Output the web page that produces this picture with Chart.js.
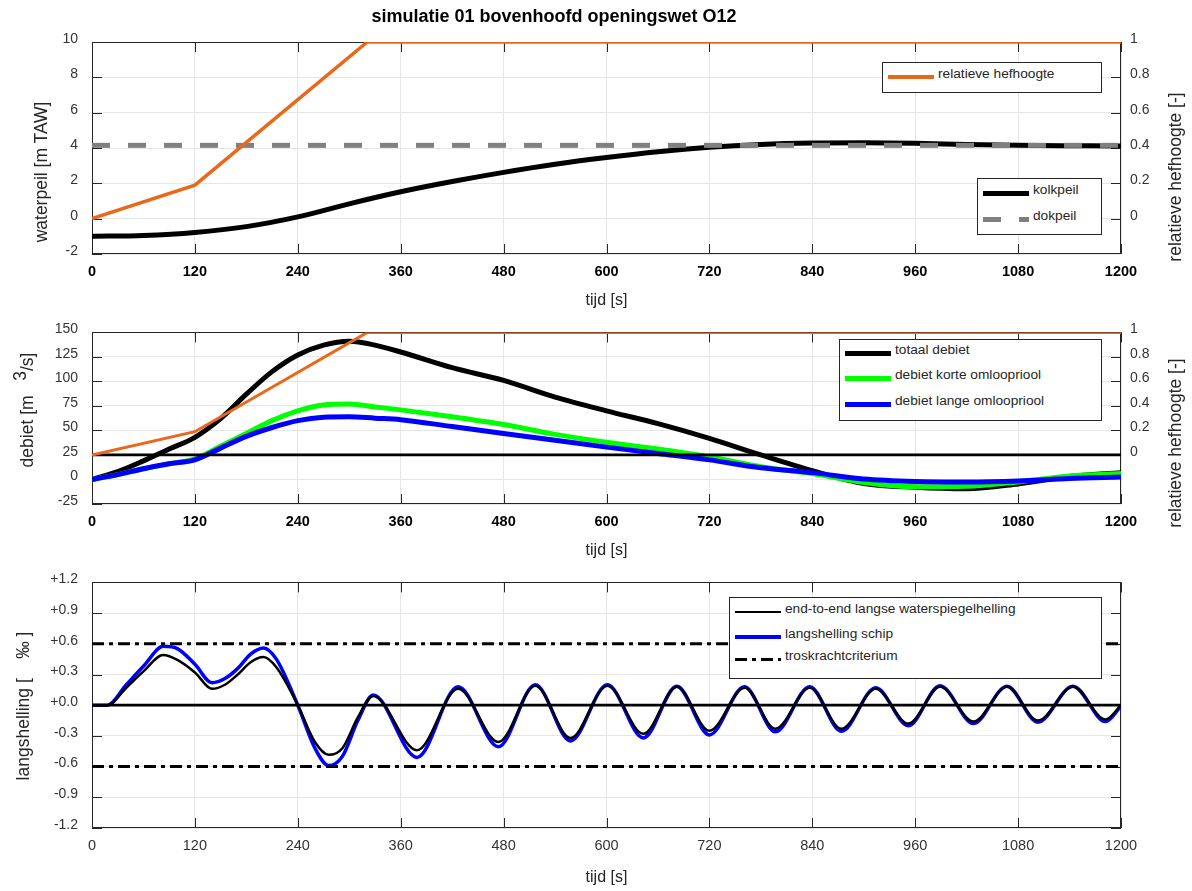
<!DOCTYPE html>
<html lang="nl">
<head>
<meta charset="utf-8">
<title>simulatie 01 bovenhoofd openingswet O12</title>
<script src="https://cdn.jsdelivr.net/npm/chart.js@4.4.1/dist/chart.umd.min.js"></script>
<style>
  body { margin: 0; background: #fff; font-family: 'Liberation Sans', Arial, sans-serif; }
  #blad { position: relative; width: 1192px; height: 891px; overflow: hidden; }
  #blad canvas { position: absolute; left: 0; }
  #titel { position: absolute; left: 354px; top: 6px; width: 400px; text-align: center;
           font-weight: bold; font-size: 18px; color: #000; }
  .astitel { position: absolute; transform: translate(-50%, -50%) rotate(-90deg);
             font-size: 17.5px; color: #262626; white-space: pre; line-height: 20px; }
  .legenda { position: absolute; box-sizing: border-box; border: 1px solid #262626; background: #fff; }
  .legenda .lijn { position: absolute; left: 5px; width: 46px; }
  .legenda .tekst { position: absolute; left: 55px; font-size: 13.7px; line-height: 16px;
                    color: #262626; white-space: nowrap; }
</style>
</head>
<body>
<div id="blad">
  <canvas id="grafiek1" width="1192" height="310" style="top:0"></canvas>
  <canvas id="grafiek2" width="1192" height="250" style="top:310px"></canvas>
  <canvas id="grafiek3" width="1192" height="331" style="top:560px"></canvas>
  <div id="titel">simulatie 01 bovenhoofd openingswet O12</div>
  <div class="astitel" style="left:41px;top:172px">waterpeil [m TAW]</div>
  <div class="astitel" style="left:1175px;top:177px">relatieve hefhoogte [-]</div>
  <div class="astitel" style="left:27px;top:410px">debiet [m   <span style="position:relative;top:-7px">3</span>/s]</div>
  <div class="astitel" style="left:1175px;top:443px">relatieve hefhoogte [-]</div>
  <div class="astitel" style="left:23px;top:706px">langshelling [    ‰ ]</div>
</div>
<script>
// --- data ---
const tijdBereik = [0, 1200];

// grafiek 1: waterpeil [m TAW]
const tijdKolk = [0, 60, 120, 180, 240, 300, 360, 420, 480, 540, 600, 660, 720, 780, 840, 900, 960, 1020, 1080, 1140, 1200];
const kolkpeil = [-1.0, -0.95, -0.78, -0.45, 0.1, 0.84, 1.52, 2.1, 2.62, 3.08, 3.46, 3.79, 4.04, 4.2, 4.28, 4.3, 4.27, 4.2, 4.15, 4.13, 4.12];
const dokpeil = 4.15;

// relatieve hefhoogte [-] (grafiek 1 en 2)
const tijdHef = [0, 120, 321, 1200];
const hefhoogte = [0, 0.19, 1, 1];

// grafiek 2: debiet [m3/s]
const tijdDebiet = [0, 30, 60, 90, 120, 150, 180, 210, 240, 270, 300, 330, 360, 420, 480, 540, 600, 660, 720, 780, 840, 900, 960, 1020, 1080, 1140, 1200];
const totaalDebiet = [0, 8, 19, 31, 43, 62, 87, 110, 127, 137, 141, 137, 130, 114, 101, 84, 70, 57, 42, 25, 9, -4, -8, -9.5, -4.5, 3, 7];
const debietKort = [0, 5, 11, 16, 21, 34, 47, 60, 70, 76, 77, 74, 71, 64, 56, 46, 38, 31, 23, 13, 6, -3, -7.5, -7, -2.5, 3.5, 6];
const debietLang = [0, 5, 11, 16, 20, 32, 44, 53, 60, 63.5, 64, 62.5, 61, 54, 47, 40, 33, 26.5, 20, 12, 7, 0.5, -2, -2.5, -1.5, 1, 2.5];

// grafiek 3: langshelling [promille]
const tijdHelling = [0, 18, 40, 60, 83, 100, 120, 140, 155, 170, 185, 200, 215, 240, 260, 276, 292, 310, 328,
  379, 427, 474, 517, 558, 601, 643, 682, 720, 761, 797, 837, 874, 914, 952, 989, 1028, 1067, 1103, 1144, 1182, 1200];
const hellingWater = [0, 0, 0.17, 0.33, 0.49, 0.44, 0.32, 0.16, 0.2, 0.3, 0.42, 0.47, 0.37, 0.0, -0.36, -0.485, -0.42, -0.12, 0.09,
  -0.44, 0.16, -0.36, 0.19, -0.32, 0.19, -0.28, 0.18, -0.25, 0.17, -0.23, 0.17, -0.23, 0.16, -0.18, 0.18, -0.16, 0.18, -0.15, 0.18, -0.14, 0.0];
const hellingSchip = [0, 0, 0.2, 0.38, 0.575, 0.55, 0.4, 0.22, 0.26, 0.36, 0.5, 0.56, 0.45, 0.0, -0.42, -0.59, -0.5, -0.15, 0.1,
  -0.51, 0.18, -0.405, 0.2, -0.35, 0.2, -0.32, 0.186, -0.29, 0.18, -0.26, 0.18, -0.255, 0.17, -0.2, 0.19, -0.18, 0.186, -0.166, 0.186, -0.16, -0.01];
const troskracht = 0.6;

const ORANJE = '#e9681c';
Chart.defaults.font.family = "'Liberation Sans', Arial, Helvetica, sans-serif";

// MATLAB-achtige doos met naar binnen gerichte tickstreepjes
const kader = {
  id: 'kader',
  beforeDatasetsDraw(chart) {
    const { ctx, chartArea: a, scales } = chart;
    const L = 10;
    ctx.save();
    ctx.strokeStyle = '#262626';
    ctx.lineWidth = 1;
    ctx.beginPath();
    scales.x.ticks.forEach(t => {
      const px = Math.round(scales.x.getPixelForValue(t.value)) + 0.5;
      ctx.moveTo(px, a.bottom); ctx.lineTo(px, a.bottom - L);
      ctx.moveTo(px, a.top); ctx.lineTo(px, a.top + L);
    });
    scales.y.ticks.forEach(t => {
      const py = Math.round(scales.y.getPixelForValue(t.value)) + 0.5;
      ctx.moveTo(a.left, py); ctx.lineTo(a.left + L, py);
    });
    const rechts = scales.y1 || scales.y;
    rechts.ticks.filter(t => t.value > -1e-9 || !scales.y1).forEach(t => {
      const py = Math.round(rechts.getPixelForValue(t.value)) + 0.5;
      ctx.moveTo(a.right, py); ctx.lineTo(a.right - L, py);
    });
    ctx.stroke();
    ctx.strokeRect(Math.round(a.left) + 0.5, Math.round(a.top) + 0.5, Math.round(a.width) - 1, Math.round(a.height) - 1);
    ctx.restore();
  }
};

function reeks(label, tijd, waarden, kleur, dikte, extra) {
  return Object.assign({
    label: label,
    data: tijd.map((t, i) => ({ x: t, y: waarden[i] })),
    borderColor: kleur, backgroundColor: kleur, borderWidth: dikte,
    pointRadius: 0, fill: false, cubicInterpolationMode: 'monotone'
  }, extra || {});
}

function constante(label, waarde, kleur, dikte, extra) {
  return reeks(label, tijdBereik, tijdBereik.map(() => waarde), kleur, dikte,
    Object.assign({ cubicInterpolationMode: 'default', tension: 0 }, extra || {}));
}

function rechtsLabel(v) {
  if (v < -1e-9) return '';
  return Math.abs(v) < 1e-9 ? '0' : String(+v.toFixed(1));
}

function opties(c) {
  const schalen = {
    x: {
      type: 'linear', min: 0, max: 1200,
      ticks: { stepSize: 120, padding: 9, color: c.xVet ? '#000' : '#333',
               font: { size: 14.5, weight: c.xVet ? 'bold' : 'normal' },
               callback: v => String(v) },
      grid: { color: '#e6e6e6', drawTicks: false },
      border: { display: false },
      title: { display: true, text: 'tijd [s]', color: '#262626', font: { size: 16 },
               padding: { top: 0, bottom: c.xTitelPad } },
      afterFit(s) { s.height = c.xHoogte; }
    },
    y: {
      type: 'linear', position: 'left', min: c.yMin, max: c.yMax,
      ticks: { stepSize: c.yStap, padding: 14, labelOffset: -3, color: '#333', font: { size: 14 },
               callback: c.yLabel || (v => String(v)) },
      grid: { color: '#e6e6e6', drawTicks: false },
      border: { display: false },
      afterFit(s) { s.width = c.yBreedte; }
    }
  };
  if (c.rechts) {
    schalen.y1 = {
      type: 'linear', position: 'right', min: c.rechts.min, max: 1,
      ticks: { stepSize: 0.2, padding: 9, labelOffset: -3, color: '#333', font: { size: 14 }, callback: rechtsLabel },
      grid: { display: false, drawTicks: false },
      border: { display: false },
      afterFit(s) { s.width = 64; }
    };
  }
  return {
    responsive: false, animation: false, events: [],
    layout: { padding: c.padding },
    plugins: { legend: { display: false }, tooltip: { enabled: false } },
    scales: schalen
  };
}

// --- grafiek 1 ---
const g1 = new Chart(document.getElementById('grafiek1'), {
  type: 'line',
  data: { datasets: [
    reeks('relatieve hefhoogte', tijdHef, hefhoogte, ORANJE, 3.5, { yAxisID: 'y1', cubicInterpolationMode: 'default' }),
    constante('dokpeil', dokpeil, '#808080', 5, { borderDash: [18, 18] }),
    reeks('kolkpeil', tijdKolk, kolkpeil, '#000', 5)
  ] },
  options: opties({ xVet: true, xHoogte: 56, xTitelPad: 0, yMin: -2, yMax: 10, yStap: 2,
    yBreedte: 61, rechts: { min: -0.2 },
    padding: { top: 42, left: 31, right: 7, bottom: 0 } }),
  plugins: [kader]
});

// --- grafiek 2 ---
const g2 = new Chart(document.getElementById('grafiek2'), {
  type: 'line',
  data: { datasets: [
    reeks('relatieve hefhoogte', tijdHef, hefhoogte, ORANJE, 3, { yAxisID: 'y1', cubicInterpolationMode: 'default' }),
    constante('', 0, '#000', 2.7, { yAxisID: 'y1' }),
    reeks('debiet lange omloopriool', tijdDebiet, debietLang, '#0000ff', 5),
    reeks('debiet korte omloopriool', tijdDebiet, debietKort, '#00ff00', 5),
    reeks('totaal debiet', tijdDebiet, totaalDebiet, '#000', 5)
  ] },
  options: opties({ xVet: true, xHoogte: 56, xTitelPad: 0, yMin: -25, yMax: 150, yStap: 25,
    yBreedte: 75, rechts: { min: -0.4 },
    padding: { top: 10, left: 17, right: 7, bottom: 0 } }),
  plugins: [kader]
});

// --- grafiek 3 ---
const g3 = new Chart(document.getElementById('grafiek3'), {
  type: 'line',
  data: { datasets: [
    constante('troskrachtcriterium', troskracht, '#000', 3, { borderDash: [12, 5, 4, 5] }),
    constante('', -troskracht, '#000', 3, { borderDash: [12, 5, 4, 5] }),
    constante('', 0, '#000', 2.7),
    reeks('end-to-end langse waterspiegelhelling', tijdHelling, hellingWater, '#000', 2.5),
    reeks('langshelling schip', tijdHelling, hellingSchip, '#0000ff', 3.5)
  ] },
  options: opties({ xVet: false, xHoogte: 63, xTitelPad: 4, yMin: -1.2, yMax: 1.2, yStap: 0.3,
    yBreedte: 79,
    yLabel: v => (v >= -1e-9 ? '+' : '-') + Math.abs(v).toFixed(1),
    padding: { top: 17, left: 13, right: 71, bottom: 0 } }),
  plugins: [kader]
});

// --- legenda's (tekst als HTML) ---
function streepPatroon(kleur, dash) {
  if (!dash || !dash.length) return kleur;
  const delen = [];
  let pos = 0;
  for (let k = 0; pos < 46; k++) {
    const len = dash[k % dash.length];
    delen.push((k % 2 === 0 ? kleur : 'transparent') + ' ' + pos + 'px ' + (pos + len) + 'px');
    pos += len;
  }
  return 'linear-gradient(to right, ' + delen.join(', ') + ')';
}

function legenda(grafiek, volgorde, vak, rijen) {
  const doos = document.createElement('div');
  doos.className = 'legenda';
  doos.style.left = vak[0] + 'px';
  doos.style.top = vak[1] + 'px';
  doos.style.width = vak[2] + 'px';
  doos.style.height = vak[3] + 'px';
  volgorde.forEach((i, k) => {
    const ds = grafiek.data.datasets[i];
    const lijn = document.createElement('span');
    lijn.className = 'lijn';
    lijn.style.top = (rijen[k] - 1 - ds.borderWidth / 2) + 'px';
    lijn.style.height = ds.borderWidth + 'px';
    lijn.style.background = streepPatroon(ds.borderColor, ds.borderDash);
    const tekst = document.createElement('span');
    tekst.className = 'tekst';
    tekst.style.top = (rijen[k] - 1 - 8 - 3) + 'px';
    tekst.textContent = ds.label;
    doos.append(lijn, tekst);
  });
  document.getElementById('blad').appendChild(doos);
}

legenda(g1, [0], [882, 62, 220, 31], [15]);
legenda(g1, [2, 1], [977, 178, 125, 57], [15, 41]);
legenda(g2, [4, 3, 2], [839, 339, 263, 82], [14, 39, 65]);
legenda(g3, [3, 4, 0], [729, 597, 373, 82], [15, 40, 62]);
</script>
</body>
</html>
